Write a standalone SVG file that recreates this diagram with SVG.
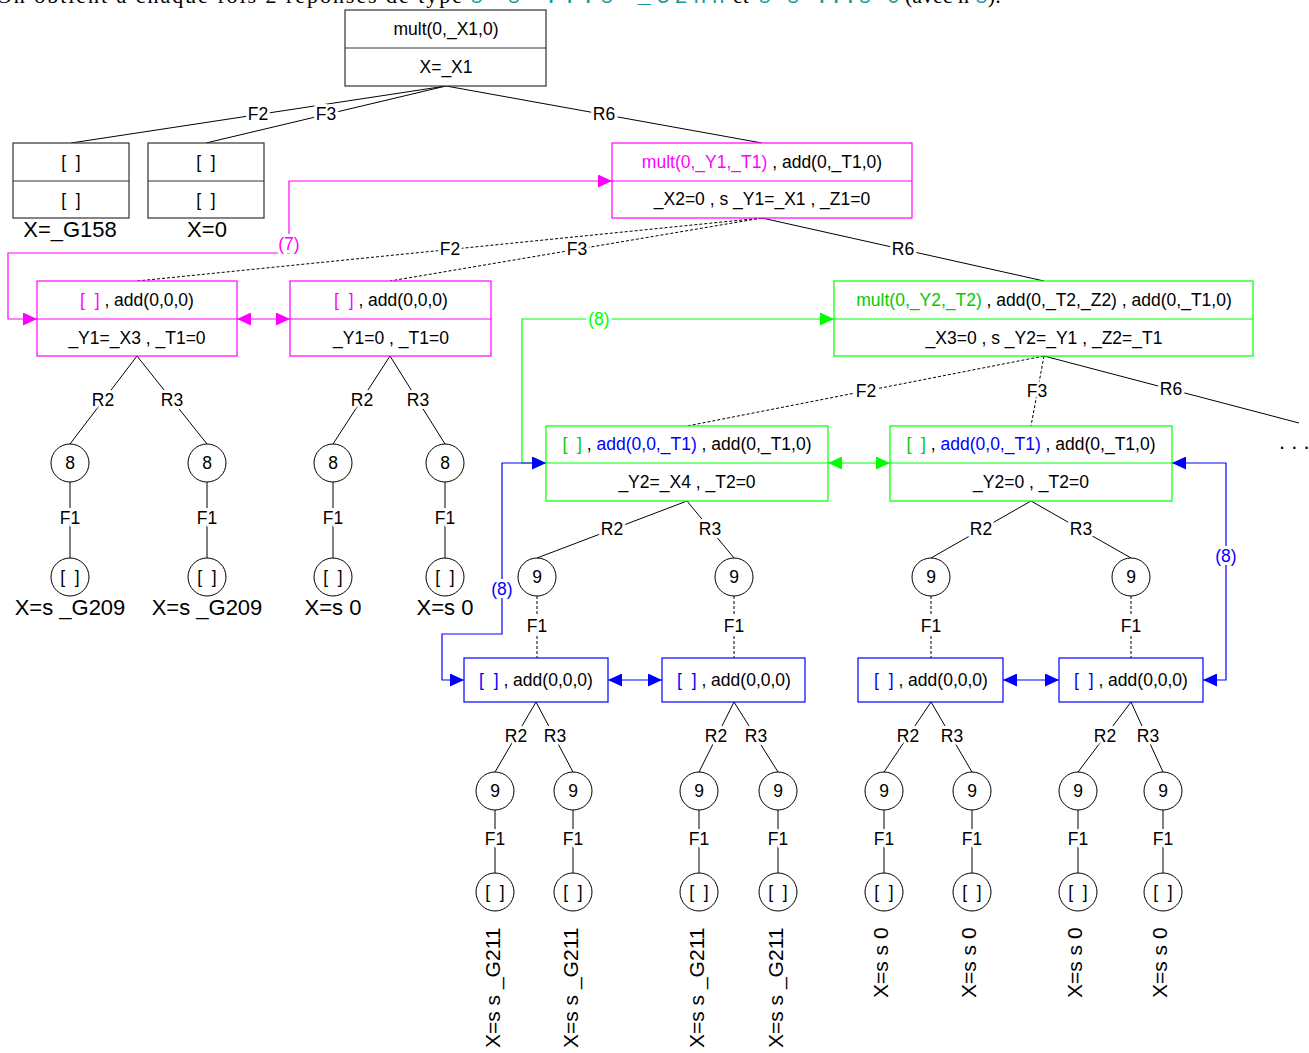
<svg xmlns="http://www.w3.org/2000/svg" width="1309" height="1053" viewBox="0 0 1309 1053">
<style>
.t{font-family:"Liberation Sans",Arial,sans-serif;font-size:17.5px;text-anchor:middle;fill:#000}
.big{font-size:22px}
.rot{font-family:"Liberation Sans",Arial,sans-serif;font-size:21px;fill:#000}
.box{fill:#fff;stroke:#333;stroke-width:1.2}
.pbox{fill:#fff;stroke:#f0f;stroke-width:1.2}
.gbox{fill:#fff;stroke:#0f0;stroke-width:1.2}
.bbox{fill:#fff;stroke:#00f;stroke-width:1.2}
.c{fill:#fff;stroke:#000;stroke-width:1}
.e{stroke:#000;stroke-width:1;fill:none}
.d{stroke-dasharray:3,2}
.lbl{font-family:"Liberation Sans",Arial,sans-serif;font-size:17.5px;text-anchor:middle;fill:#000;stroke:#fff;stroke-width:6;paint-order:stroke fill;stroke-linejoin:round}
.pk{fill:#f0f}.gr{fill:#0c0}.bl{fill:#00f}
.pl{stroke:#f0f;stroke-width:1.2;fill:none}
.gl{stroke:#0f0;stroke-width:1.2;fill:none}
.blu{stroke:#00f;stroke-width:1.2;fill:none}
.serif{font-family:"Liberation Serif","Times New Roman",serif;font-size:22px;fill:#000}
.mono{font-family:"Liberation Mono","Courier New",monospace;font-size:22px;fill:#1a9a9a}
</style>
<defs>
<marker id="aP" viewBox="0 0 14 13" markerWidth="14" markerHeight="13" refX="14" refY="6.5" orient="auto-start-reverse" markerUnits="userSpaceOnUse"><path d="M0,0 L14,6.5 L0,13 z" fill="#f0f"/></marker>
<marker id="aG" viewBox="0 0 14 13" markerWidth="14" markerHeight="13" refX="14" refY="6.5" orient="auto-start-reverse" markerUnits="userSpaceOnUse"><path d="M0,0 L14,6.5 L0,13 z" fill="#0f0"/></marker>
<marker id="aB" viewBox="0 0 14 13" markerWidth="14" markerHeight="13" refX="14" refY="6.5" orient="auto-start-reverse" markerUnits="userSpaceOnUse"><path d="M0,0 L14,6.5 L0,13 z" fill="#00f"/></marker>
</defs>
<rect width="1309" height="1053" fill="#fff"/>

<g id="caption">
<text class="serif" x="-4" y="3" textLength="466" lengthAdjust="spacing">On obtient à chaque fois 2  réponses de type</text>
<text class="mono" x="470" y="3" textLength="255" lengthAdjust="spacing">s s ...s _G2nn</text>
<text class="serif" x="733" y="3">et</text>
<text class="mono" x="758" y="3" textLength="142" lengthAdjust="spacing">s s ...s 0</text>
<text class="serif" x="905" y="3">(avec n <tspan class="mono" style="fill:#1a9a9a">s</tspan>).</text>
</g>

<g id="connectors">
<line class="e" x1="446" y1="86" x2="71" y2="143"/>
<line class="e" x1="446" y1="86" x2="206" y2="143"/>
<line class="e" x1="446" y1="86" x2="762" y2="143"/>
<line class="e d" x1="762" y1="218" x2="137" y2="281"/>
<line class="e d" x1="762" y1="218" x2="390" y2="281"/>
<line class="e" x1="762" y1="218" x2="1044" y2="281"/>
<line class="e d" x1="1044" y1="356" x2="687" y2="426"/>
<line class="e d" x1="1044" y1="356" x2="1031" y2="426"/>
<line class="e" x1="1044" y1="356" x2="1299" y2="423"/>
<line class="e" x1="137" y1="356" x2="70" y2="444"/>
<line class="e" x1="137" y1="356" x2="207" y2="444"/>
<line class="e" x1="390" y1="356" x2="333" y2="444"/>
<line class="e" x1="390" y1="356" x2="445" y2="444"/>
<line class="e" x1="70" y1="482" x2="70" y2="558"/>
<line class="e" x1="207" y1="482" x2="207" y2="558"/>
<line class="e" x1="333" y1="482" x2="333" y2="558"/>
<line class="e" x1="445" y1="482" x2="445" y2="558"/>
<line class="e" x1="687" y1="501" x2="537" y2="558"/>
<line class="e" x1="687" y1="501" x2="734" y2="558"/>
<line class="e" x1="1031" y1="501" x2="931" y2="558"/>
<line class="e" x1="1031" y1="501" x2="1131" y2="558"/>
<line class="e d" x1="537" y1="596" x2="537" y2="658"/>
<line class="e d" x1="734" y1="596" x2="734" y2="658"/>
<line class="e d" x1="931" y1="596" x2="931" y2="658"/>
<line class="e d" x1="1131" y1="596" x2="1131" y2="658"/>
<line class="e" x1="536" y1="702" x2="495" y2="772"/>
<line class="e" x1="536" y1="702" x2="573" y2="772"/>
<line class="e" x1="734" y1="702" x2="699" y2="772"/>
<line class="e" x1="734" y1="702" x2="778" y2="772"/>
<line class="e" x1="931" y1="702" x2="884" y2="772"/>
<line class="e" x1="931" y1="702" x2="972" y2="772"/>
<line class="e" x1="1131" y1="702" x2="1078" y2="772"/>
<line class="e" x1="1131" y1="702" x2="1163" y2="772"/>
<line class="e" x1="495" y1="810" x2="495" y2="873"/>
<line class="e" x1="573" y1="810" x2="573" y2="873"/>
<line class="e" x1="699" y1="810" x2="699" y2="873"/>
<line class="e" x1="778" y1="810" x2="778" y2="873"/>
<line class="e" x1="884" y1="810" x2="884" y2="873"/>
<line class="e" x1="972" y1="810" x2="972" y2="873"/>
<line class="e" x1="1078" y1="810" x2="1078" y2="873"/>
<line class="e" x1="1163" y1="810" x2="1163" y2="873"/>
<path class="pl" d="M612,181 H289 V253 H8 V319 H37" marker-start="url(#aP)" marker-end="url(#aP)"/>
<path class="pl" d="M237,319 H290" marker-start="url(#aP)" marker-end="url(#aP)"/>
<path class="gl" d="M834,319 H522 V463 H546" marker-start="url(#aG)" marker-end="url(#aG)"/>
<path class="gl" d="M828,463 H890" marker-start="url(#aG)" marker-end="url(#aG)"/>
<path class="blu" d="M546,463 H502 V634 H442 V680 H464" marker-start="url(#aB)" marker-end="url(#aB)"/>
<path class="blu" d="M1172,463 H1226 V680 H1203" marker-start="url(#aB)" marker-end="url(#aB)"/>
<path class="blu" d="M608,680 H662" marker-start="url(#aB)" marker-end="url(#aB)"/>
<path class="blu" d="M1003,680 H1059" marker-start="url(#aB)" marker-end="url(#aB)"/>
<text class="lbl" x="258" y="120">F2</text>
<text class="lbl" x="326" y="120">F3</text>
<text class="lbl" x="604" y="120">R6</text>
<text class="lbl" x="450" y="255">F2</text>
<text class="lbl" x="577" y="255">F3</text>
<text class="lbl" x="903" y="255">R6</text>
<text class="lbl" x="866" y="397">F2</text>
<text class="lbl" x="1037" y="397">F3</text>
<text class="lbl" x="1171" y="395">R6</text>
<text class="lbl" x="103" y="406">R2</text>
<text class="lbl" x="172" y="406">R3</text>
<text class="lbl" x="362" y="406">R2</text>
<text class="lbl" x="418" y="406">R3</text>
<text class="lbl" x="70" y="524">F1</text>
<text class="lbl" x="207" y="524">F1</text>
<text class="lbl" x="333" y="524">F1</text>
<text class="lbl" x="445" y="524">F1</text>
<text class="lbl" x="612" y="535">R2</text>
<text class="lbl" x="710" y="535">R3</text>
<text class="lbl" x="981" y="535">R2</text>
<text class="lbl" x="1081" y="535">R3</text>
<text class="lbl" x="537" y="632">F1</text>
<text class="lbl" x="734" y="632">F1</text>
<text class="lbl" x="931" y="632">F1</text>
<text class="lbl" x="1131" y="632">F1</text>
<text class="lbl" x="516" y="742">R2</text>
<text class="lbl" x="555" y="742">R3</text>
<text class="lbl" x="716" y="742">R2</text>
<text class="lbl" x="756" y="742">R3</text>
<text class="lbl" x="908" y="742">R2</text>
<text class="lbl" x="952" y="742">R3</text>
<text class="lbl" x="1105" y="742">R2</text>
<text class="lbl" x="1148" y="742">R3</text>
<text class="lbl" x="495" y="845">F1</text>
<text class="lbl" x="573" y="845">F1</text>
<text class="lbl" x="699" y="845">F1</text>
<text class="lbl" x="778" y="845">F1</text>
<text class="lbl" x="884" y="845">F1</text>
<text class="lbl" x="972" y="845">F1</text>
<text class="lbl" x="1078" y="845">F1</text>
<text class="lbl" x="1163" y="845">F1</text>
<text class="lbl" x="289" y="250" style="fill:#f0f">(7)</text>
<text class="lbl" x="599" y="325" style="fill:#0f0">(8)</text>
<text class="lbl" x="502" y="595" style="fill:#00f">(8)</text>
<text class="lbl" x="1226" y="562" style="fill:#00f">(8)</text>
</g>

<g id="n0"><rect class="box" x="345" y="10" width="201" height="76"/><line class="e" x1="345" y1="48" x2="546" y2="48" style="stroke:#333"/><text class="t" x="446" y="35">mult(0,_X1,0)</text><text class="t" x="446" y="73">X=_X1</text></g>
<g id="n1"><rect class="box" x="13" y="143" width="116" height="75"/><line class="e" x1="13" y1="181" x2="129" y2="181" style="stroke:#333"/><text class="t" x="71" y="168">[&#160;&#160;]</text><text class="t" x="71" y="206">[&#160;&#160;]</text><text class="t big" x="70" y="237">X=_G158</text></g>
<g id="n2"><rect class="box" x="148" y="143" width="116" height="75"/><line class="e" x1="148" y1="181" x2="264" y2="181" style="stroke:#333"/><text class="t" x="206" y="168">[&#160;&#160;]</text><text class="t" x="206" y="206">[&#160;&#160;]</text><text class="t big" x="207" y="237">X=0</text></g>
<g id="n3"><rect class="pbox" x="612" y="143" width="300" height="75"/><line class="pl" x1="612" y1="181" x2="912" y2="181"/><text class="t" x="762" y="168"><tspan class="pk">mult(0,_Y1,_T1)</tspan> , add(0,_T1,0)</text><text class="t" x="762" y="205">_X2=0 , s _Y1=_X1 , _Z1=0</text></g>
<g id="n4"><rect class="pbox" x="37" y="281" width="200" height="75"/><line class="pl" x1="37" y1="319" x2="237" y2="319"/><text class="t" x="137" y="306"><tspan class="pk">[&#160;&#160;]</tspan> , add(0,0,0)</text><text class="t" x="137" y="344">_Y1=_X3 , _T1=0</text></g>
<g id="n5"><rect class="pbox" x="290" y="281" width="201" height="75"/><line class="pl" x1="290" y1="319" x2="491" y2="319"/><text class="t" x="391" y="306"><tspan class="pk">[&#160;&#160;]</tspan> , add(0,0,0)</text><text class="t" x="391" y="344">_Y1=0 , _T1=0</text></g>
<g id="n6"><rect class="gbox" x="834" y="281" width="419" height="75"/><line class="gl" x1="834" y1="319" x2="1253" y2="319"/><text class="t" x="1044" y="306"><tspan class="gr">mult(0,_Y2,_T2)</tspan> , add(0,_T2,_Z2) , add(0,_T1,0)</text><text class="t" x="1044" y="344">_X3=0 , s _Y2=_Y1 , _Z2=_T1</text></g>
<g id="n7"><rect class="gbox" x="546" y="426" width="282" height="75"/><line class="gl" x1="546" y1="463" x2="828" y2="463"/><text class="t" x="687" y="450"><tspan class="gr">[&#160;&#160;]</tspan> , <tspan class="bl">add(0,0,_T1)</tspan> , add(0,_T1,0)</text><text class="t" x="687" y="488">_Y2=_X4 , _T2=0</text></g>
<g id="n8"><rect class="gbox" x="890" y="426" width="282" height="75"/><line class="gl" x1="890" y1="463" x2="1172" y2="463"/><text class="t" x="1031" y="450"><tspan class="gr">[&#160;&#160;]</tspan> , <tspan class="bl">add(0,0,_T1)</tspan> , add(0,_T1,0)</text><text class="t" x="1031" y="488">_Y2=0 , _T2=0</text></g>
<g id="more"><text class="t big" x="1279" y="449" style="text-anchor:start">. . .</text></g>

<g id="c8a"><circle class="c" cx="70" cy="463" r="19"/><text class="t" x="70" y="469">8</text></g>
<g id="c8b"><circle class="c" cx="207" cy="463" r="19"/><text class="t" x="207" y="469">8</text></g>
<g id="c8c"><circle class="c" cx="333" cy="463" r="19"/><text class="t" x="333" y="469">8</text></g>
<g id="c8d"><circle class="c" cx="445" cy="463" r="19"/><text class="t" x="445" y="469">8</text></g>
<g id="l8a"><circle class="c" cx="70" cy="577" r="19"/><text class="t" x="70" y="583">[&#160;&#160;]</text><text class="t big" x="70" y="615">X=s _G209</text></g>
<g id="l8b"><circle class="c" cx="207" cy="577" r="19"/><text class="t" x="207" y="583">[&#160;&#160;]</text><text class="t big" x="207" y="615">X=s _G209</text></g>
<g id="l8c"><circle class="c" cx="333" cy="577" r="19"/><text class="t" x="333" y="583">[&#160;&#160;]</text><text class="t big" x="333" y="615">X=s 0</text></g>
<g id="l8d"><circle class="c" cx="445" cy="577" r="19"/><text class="t" x="445" y="583">[&#160;&#160;]</text><text class="t big" x="445" y="615">X=s 0</text></g>

<g id="c9a"><circle class="c" cx="537" cy="577" r="19"/><text class="t" x="537" y="583">9</text></g>
<g id="c9b"><circle class="c" cx="734" cy="577" r="19"/><text class="t" x="734" y="583">9</text></g>
<g id="c9c"><circle class="c" cx="931" cy="577" r="19"/><text class="t" x="931" y="583">9</text></g>
<g id="c9d"><circle class="c" cx="1131" cy="577" r="19"/><text class="t" x="1131" y="583">9</text></g>

<g id="b1"><rect class="bbox" x="464" y="658" width="144" height="44"/><text class="t" x="536" y="686"><tspan class="bl">[&#160;&#160;]</tspan> , add(0,0,0)</text></g>
<g id="b2"><rect class="bbox" x="662" y="658" width="143" height="44"/><text class="t" x="734" y="686"><tspan class="bl">[&#160;&#160;]</tspan> , add(0,0,0)</text></g>
<g id="b3"><rect class="bbox" x="858" y="658" width="145" height="44"/><text class="t" x="931" y="686"><tspan class="bl">[&#160;&#160;]</tspan> , add(0,0,0)</text></g>
<g id="b4"><rect class="bbox" x="1059" y="658" width="144" height="44"/><text class="t" x="1131" y="686"><tspan class="bl">[&#160;&#160;]</tspan> , add(0,0,0)</text></g>

<g id="k1"><circle class="c" cx="495" cy="791" r="19"/><text class="t" x="495" y="797">9</text></g>
<g id="k2"><circle class="c" cx="573" cy="791" r="19"/><text class="t" x="573" y="797">9</text></g>
<g id="k3"><circle class="c" cx="699" cy="791" r="19"/><text class="t" x="699" y="797">9</text></g>
<g id="k4"><circle class="c" cx="778" cy="791" r="19"/><text class="t" x="778" y="797">9</text></g>
<g id="k5"><circle class="c" cx="884" cy="791" r="19"/><text class="t" x="884" y="797">9</text></g>
<g id="k6"><circle class="c" cx="972" cy="791" r="19"/><text class="t" x="972" y="797">9</text></g>
<g id="k7"><circle class="c" cx="1078" cy="791" r="19"/><text class="t" x="1078" y="797">9</text></g>
<g id="k8"><circle class="c" cx="1163" cy="791" r="19"/><text class="t" x="1163" y="797">9</text></g>

<g id="m1"><circle class="c" cx="495" cy="892" r="19"/><text class="t" x="495" y="898">[&#160;&#160;]</text><text class="rot" transform="translate(500,1048) rotate(-90)">X=s s _G211</text></g>
<g id="m2"><circle class="c" cx="573" cy="892" r="19"/><text class="t" x="573" y="898">[&#160;&#160;]</text><text class="rot" transform="translate(578,1048) rotate(-90)">X=s s _G211</text></g>
<g id="m3"><circle class="c" cx="699" cy="892" r="19"/><text class="t" x="699" y="898">[&#160;&#160;]</text><text class="rot" transform="translate(704,1048) rotate(-90)">X=s s _G211</text></g>
<g id="m4"><circle class="c" cx="778" cy="892" r="19"/><text class="t" x="778" y="898">[&#160;&#160;]</text><text class="rot" transform="translate(783,1048) rotate(-90)">X=s s _G211</text></g>
<g id="m5"><circle class="c" cx="884" cy="892" r="19"/><text class="t" x="884" y="898">[&#160;&#160;]</text><text class="rot" transform="translate(888,998) rotate(-90)">X=s s 0</text></g>
<g id="m6"><circle class="c" cx="972" cy="892" r="19"/><text class="t" x="972" y="898">[&#160;&#160;]</text><text class="rot" transform="translate(976,998) rotate(-90)">X=s s 0</text></g>
<g id="m7"><circle class="c" cx="1078" cy="892" r="19"/><text class="t" x="1078" y="898">[&#160;&#160;]</text><text class="rot" transform="translate(1082,998) rotate(-90)">X=s s 0</text></g>
<g id="m8"><circle class="c" cx="1163" cy="892" r="19"/><text class="t" x="1163" y="898">[&#160;&#160;]</text><text class="rot" transform="translate(1167,998) rotate(-90)">X=s s 0</text></g>
</svg>
